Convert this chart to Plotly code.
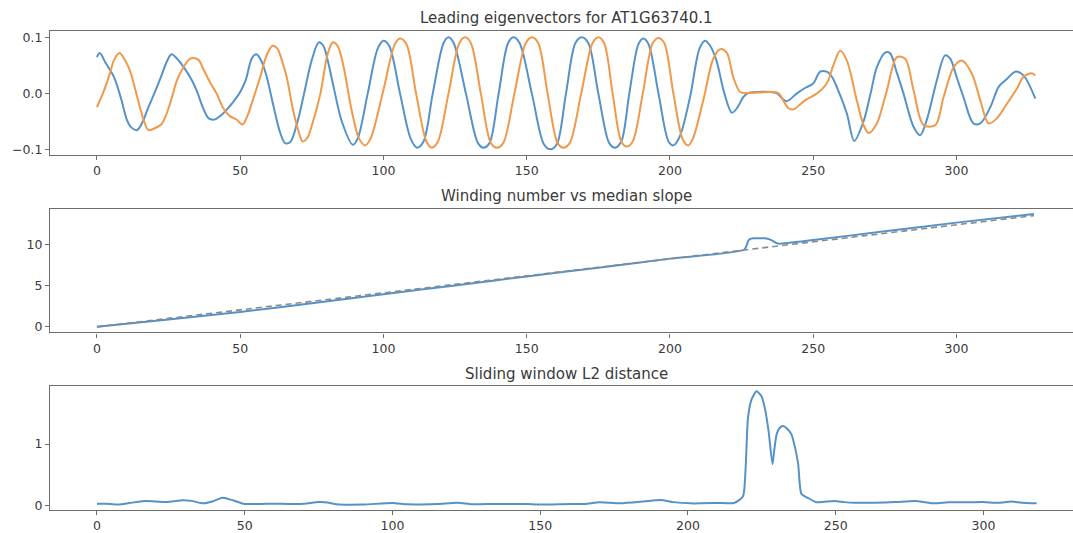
import plotly.graph_objects as go

# ---------------- data ----------------
ev_blue_x = [0, 1, 3, 6, 8.5, 10.5, 12, 14, 16, 17.5, 20, 22.3, 24.5, 26, 28, 30.3, 33, 35, 37, 39, 41, 43,
             45.4, 48, 50, 52, 54, 55.6, 57, 59, 61.7, 64, 65.7, 67.5, 70, 72.3, 75, 77.4, 79, 80.5, 82.6, 85.5,
             89.3, 91, 94.5, 98, 100, 102, 105.8, 109.5, 111.7, 114, 117.2, 121, 122.7, 124.5, 128.8, 133, 134.9,
             137, 140.2, 143.5, 145.4, 147.5, 151.8, 156, 158.2, 160.5, 163.7, 167, 169.2, 171.5, 175, 178.8,
             180.8, 183, 185.8, 189, 190.7, 192.5, 196, 199.5, 201.2, 203.5, 207, 210.3, 212.2, 214, 216.2, 219,
             221.6, 223.5, 225.6, 227.3, 237.2, 239, 240.7, 244.2, 247.1, 250, 252.4, 254.7, 256.5, 258.2, 261.7,
             264.3, 267.5, 270, 272.2, 275.1, 276.8, 279, 281.5, 285, 287.3, 289.6, 293.1, 296, 297.8, 300, 302.4,
             305.9, 308.3, 311.8, 314.7, 317.6, 320.5, 323.4, 327.5]
ev_blue_y = [0.065, 0.072, 0.055, 0.029, -0.01, -0.047, -0.06, -0.065, -0.05, -0.03, 0.0, 0.029, 0.058, 0.07,
             0.062, 0.047, 0.025, 0.003, -0.025, -0.044, -0.046, -0.04, -0.028, -0.012, 0.003, 0.025, 0.062, 0.07,
             0.062, 0.035, -0.024, -0.07, -0.088, -0.086, -0.05, 0.0, 0.06, 0.091, 0.085, 0.06, 0.012, -0.05,
             -0.091, -0.08, 0.0, 0.08, 0.094, 0.085, 0.0, -0.08, -0.096, -0.085, 0.0, 0.09, 0.1, 0.09, 0.0, -0.088,
             -0.096, -0.088, 0.0, 0.09, 0.1, 0.09, 0.0, -0.09, -0.099, -0.09, 0.0, 0.09, 0.1, 0.09, 0.0, -0.088,
             -0.096, -0.085, 0.0, 0.088, 0.098, 0.088, 0.0, -0.085, -0.092, -0.075, -0.006, 0.08, 0.094, 0.085,
             0.059, 0.0, -0.034, -0.025, -0.006, 0.001, 0.001, -0.008, -0.0136, 0.0, 0.01, 0.018, 0.039, 0.039,
             0.03, 0.012, -0.035, -0.084, -0.05, 0.0, 0.047, 0.073, 0.072, 0.04, 0.0, -0.059, -0.074, -0.047,
             0.023, 0.068, 0.062, 0.03, -0.006, -0.053, -0.053, -0.024, 0.012, 0.026, 0.039, 0.032, -0.009]

ev_orange_x = [0, 2.3, 4.5, 6, 7.9, 9.5, 11.6, 13, 15, 16.5, 18, 20, 22.6, 24, 26, 27.9, 30, 32, 33, 35.5, 37,
               39.5, 41.8, 44, 46.4, 48.7, 50.8, 52.5, 54.5, 57, 59, 61.3, 63, 64.5, 66.2, 68.5, 70.8, 71.8, 73.5,
               75.4, 78, 80.5, 82.3, 84, 86, 88.9, 91.5, 93.6, 95.5, 99.7, 104, 105.8, 108, 111.4, 115, 116.9, 119,
               122.7, 126.5, 128.5, 130.5, 134, 137.5, 139.6, 141.8, 145.7, 149.7, 151.8, 154, 157.3, 160.8, 162.8,
               165, 169, 173, 175, 177, 180, 183, 184.9, 187, 190.5, 194, 196, 198, 201.2, 204.5, 206.4, 208,
               211.7, 215.1, 217.5, 219.8, 222.1, 224.5, 227.3, 237.8, 239.5, 241.3, 243.1, 247.1, 251.2, 254.7,
               257, 259.4, 261.7, 265.2, 267.5, 269.3, 272.2, 275.7, 279.2, 282.1, 285, 288.5, 292.6, 295.5, 299,
               301.9, 305.4, 308.3, 311.2, 314.1, 317.6, 321.1, 323.4, 326.3, 327.5]
ev_orange_y = [-0.024, 0.003, 0.035, 0.06, 0.072, 0.062, 0.04, 0.015, -0.024, -0.05, -0.065, -0.062, -0.054,
               -0.04, -0.01, 0.023, 0.045, 0.06, 0.063, 0.06, 0.045, 0.02, 0.0, -0.025, -0.04, -0.046, -0.055,
               -0.04, -0.01, 0.03, 0.065, 0.085, 0.08, 0.06, 0.03, -0.03, -0.074, -0.085, -0.078, -0.05, 0.0,
               0.07, 0.091, 0.085, 0.05, -0.03, -0.08, -0.092, -0.08, 0.0, 0.088, 0.098, 0.088, 0.0, -0.085,
               -0.096, -0.085, 0.0, 0.09, 0.1, 0.09, 0.0, -0.088, -0.096, -0.088, 0.0, 0.09, 0.1, 0.09, 0.0,
               -0.088, -0.096, -0.088, 0.0, 0.09, 0.1, 0.09, 0.0, -0.085, -0.094, -0.085, 0.0, 0.09, 0.099, 0.09,
               0.0, -0.082, -0.092, -0.08, -0.01, 0.062, 0.079, 0.073, 0.029, 0.003, 0.001, 0.001, -0.012,
               -0.026, -0.028, -0.012, 0.0, 0.018, 0.05, 0.076, 0.059, -0.012, -0.055, -0.07, -0.053, 0.006,
               0.065, 0.062, 0.006, -0.056, -0.056, -0.006, 0.047, 0.059, 0.035, -0.012, -0.053, -0.044, -0.018,
               0.009, 0.03, 0.036, 0.032]

wind_x = [0, 25, 50, 75, 100, 125, 150, 175, 200, 226, 227.5, 229, 233, 235, 237, 238, 250, 275, 300, 327]
wind_y = [0, 0.9, 1.8, 2.85, 3.95, 5.0, 6.1, 7.15, 8.25, 9.35, 10.5, 10.7, 10.7, 10.55, 10.15, 10.05, 10.5,
          11.55, 12.6, 13.65]
slope_x = [0, 327]
slope_y = [0, 13.45]

l2_x = [0, 3, 7.3, 11, 16, 20, 23, 26, 29, 32, 36, 39, 42.5, 46, 49.5, 55, 60, 65, 70, 75, 78, 81, 90, 100,
        105, 115, 122, 127, 135, 145, 150, 160, 165, 170.2, 177, 185, 190.8, 195, 201, 210, 215.8, 218.6,
        219.5, 220.3, 221.5, 223.2, 224.8, 226, 227.3, 228.6, 229.2, 230, 231, 232.2, 233.5, 235, 236.2, 237.3,
        238.4, 240.5, 243.4, 246, 249.6, 253, 256.4, 263.2, 270, 276.7, 283.5, 288, 294.8, 300, 305, 309.5,
        312.9, 318]
l2_y = [0.034, 0.035, 0.02, 0.045, 0.077, 0.07, 0.06, 0.075, 0.09, 0.08, 0.04, 0.07, 0.13, 0.09, 0.035, 0.03,
        0.035, 0.03, 0.035, 0.06, 0.055, 0.025, 0.02, 0.045, 0.025, 0.03, 0.05, 0.025, 0.03, 0.03, 0.02, 0.03,
        0.03, 0.058, 0.04, 0.07, 0.095, 0.06, 0.04, 0.045, 0.05, 0.15, 0.6, 1.42, 1.72, 1.853, 1.78, 1.585,
        1.2, 0.674, 0.9, 1.156, 1.26, 1.29, 1.25, 1.156, 0.95, 0.674, 0.19, 0.13, 0.058, 0.065, 0.08, 0.06,
        0.05, 0.05, 0.06, 0.08, 0.04, 0.058, 0.058, 0.06, 0.05, 0.07, 0.05, 0.04]

titles = ["Leading eigenvectors for AT1G63740.1", "Winding number vs median slope", "Sliding window L2 distance"]

# ---------------- style ----------------
BLUE = "#5592c8"
ORANGE = "#f1994a"
GRAY_LINE = "#6e6e6e"
TEXT = "#3a3a3a"
FONT = "DejaVu Sans"

fig = go.Figure()
fig.add_trace(go.Scatter(x=ev_blue_x, y=ev_blue_y, mode="lines", line=dict(color=BLUE, width=2, shape="spline", smoothing=0.9),
                         xaxis="x", yaxis="y", showlegend=False))
fig.add_trace(go.Scatter(x=ev_orange_x, y=ev_orange_y, mode="lines", line=dict(color=ORANGE, width=2, shape="spline", smoothing=0.9),
                         xaxis="x", yaxis="y", showlegend=False))
fig.add_trace(go.Scatter(x=wind_x, y=wind_y, mode="lines", line=dict(color=BLUE, width=2, shape="spline", smoothing=0.5),
                         xaxis="x2", yaxis="y2", showlegend=False))
fig.add_trace(go.Scatter(x=slope_x, y=slope_y, mode="lines", line=dict(color="#8a8a8a", width=1.6, dash="6px,4px"),
                         xaxis="x2", yaxis="y2", showlegend=False))
fig.add_trace(go.Scatter(x=l2_x, y=l2_y, mode="lines", line=dict(color=BLUE, width=2, shape="spline", smoothing=0.6),
                         xaxis="x3", yaxis="y3", showlegend=False))

H = 533.0
def dom(top_px, bot_px):
    return [(H - bot_px) / H, (H - top_px) / H]

xcommon = dict(showline=True, linecolor=GRAY_LINE, linewidth=1.3, mirror=True, showgrid=False, zeroline=False,
               ticks="outside", ticklen=4, tickcolor=GRAY_LINE, tickwidth=1,
               tickfont=dict(family=FONT, size=12.5, color=TEXT), tickvals=[0, 50, 100, 150, 200, 250, 300],
               domain=[0, 1])
ycommon = dict(showline=True, linecolor=GRAY_LINE, linewidth=1.3, mirror=False, showgrid=False, zeroline=False,
               ticks="outside", ticklen=4, tickcolor=GRAY_LINE, tickwidth=1,
               tickfont=dict(family=FONT, size=12.5, color=TEXT))

fig.update_layout(
    width=1073, height=533, autosize=False,
    margin=dict(l=50, r=0, t=0, b=0),
    paper_bgcolor="white", plot_bgcolor="white",
    xaxis=dict(xcommon, range=[-16.37, 340.65], anchor="y"),
    yaxis=dict(ycommon, range=[-0.1088, 0.1117], domain=dom(30, 155), anchor="x",
               tickvals=[-0.1, 0.0, 0.1], ticktext=["\u22120.1", "0.0", "0.1"]),
    xaxis2=dict(xcommon, range=[-16.37, 340.65], anchor="y2"),
    yaxis2=dict(ycommon, range=[-0.68, 14.28], domain=dom(209.3, 334), anchor="x2",
                tickvals=[0, 5, 10]),
    xaxis3=dict(xcommon, range=[-15.9, 330.3], anchor="y3"),
    yaxis3=dict(ycommon, range=[-0.07, 1.946], domain=dom(387.5, 513), anchor="x3",
                tickvals=[0, 1]),
)

title_y_px = [17, 196, 376]
for t, ypx in zip(titles, title_y_px):
    fig.add_annotation(text=t, xref="paper", yref="paper", x=(566 - 50) / 1023.0, y=(H - ypx) / H,
                       xanchor="center", yanchor="middle", showarrow=False,
                       font=dict(family=FONT, size=15, color=TEXT))

fig.write_html("out.html")
